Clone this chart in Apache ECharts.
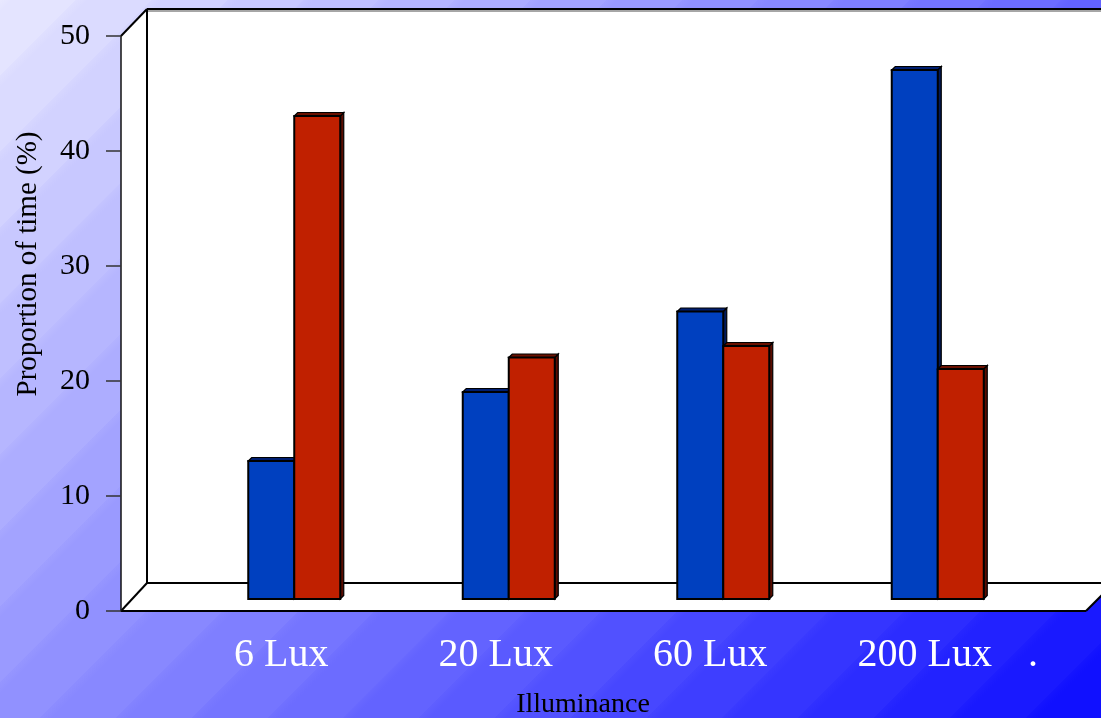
<!DOCTYPE html>
<html>
<head>
<meta charset="utf-8">
<script src="https://cdn.jsdelivr.net/npm/echarts@6/dist/echarts.min.js"></script>
<style>
  html, body { margin: 0; padding: 0; }
  #chart { width: 1101px; height: 718px; }
</style>
</head>
<body>
<div id="chart"></div>
<script>
// Share of time spent under each illuminance level
const categories = ['6 Lux', '20 Lux', '60 Lux', '200 Lux'];
const blueValues = [12, 18, 25, 46];
const redValues = [42, 21, 22, 20];
const yMin = 0;
const yMax = 50;
const yStep = 10;
const yAxisTitle = 'Proportion of time (%)';
const xAxisTitle = 'Illuminance';

// ---- layout (pixels) ----
const W = 1101, H = 718;
const FRONT = { left: 121, top: 36, bottom: 611 };   // front edge of the box (value axis)
const BACK = { dx: 26, dy: 27 };                     // back wall offset
const MID = { dx: 13, dy: 12 };                      // bars stand half way into the box
const CAT = { left: 174, right: 1032 };              // category band, front projection
const FLOOR_RIGHT = 1086;
const BAR_W = 46;
const BAR_DEPTH = 3.5;
const SERIF = '"Liberation Serif", "Times New Roman", serif';

// stepped diagonal background
function bandedBackground() {
  const bands = 24;
  const c0 = 228, c1 = 16;
  const stops = [];
  for (let i = 0; i < bands; i++) {
    const c = Math.round(c0 + (c1 - c0) * (i / (bands - 1)));
    const col = 'rgb(' + c + ',' + c + ',255)';
    const hi = 'rgb(' + Math.min(255, c + 5) + ',' + Math.min(255, c + 5) + ',255)';
    stops.push({ offset: i / bands, color: hi });
    stops.push({ offset: i / bands + 0.15 / bands, color: col });
    stops.push({ offset: (i + 1) / bands - 0.0001, color: col });
  }
  const L = (W + H) / 2;
  return { type: 'linear', x: 0, y: 0, x2: L, y2: L, global: true, colorStops: stops };
}

function barRenderer(side, face, topFill, sideFill) {
  return function (params, api) {
    const idx = api.value(0);
    const val = api.value(1);
    const base = api.coord([idx, 0]);
    const head = api.coord([idx, val]);
    const x0 = side < 0 ? base[0] - BAR_W : base[0];
    const x1 = x0 + BAR_W;
    const yb = base[1], yt = head[1];
    const d = BAR_DEPTH;
    return {
      type: 'group',
      children: [
        { type: 'polygon', shape: { points: [[x1, yt], [x1 + d, yt - d], [x1 + d, yb - d], [x1, yb]] },
          style: { fill: sideFill, stroke: '#000', lineWidth: 1.2 } },
        { type: 'polygon', shape: { points: [[x0, yt], [x0 + d, yt - d], [x1 + d, yt - d], [x1, yt]] },
          style: { fill: topFill, stroke: '#000', lineWidth: 1.2 } },
        { type: 'rect', shape: { x: x0, y: yt, width: BAR_W, height: yb - yt },
          style: { fill: face, stroke: '#000', lineWidth: 2 } }
      ]
    };
  };
}

const backTop = FRONT.top - BACK.dy;
const backLeft = FRONT.left + BACK.dx;
const backBottom = FRONT.bottom - BACK.dy - 1;
const farRight = FLOOR_RIGHT + BACK.dx + 2;
const edge = { stroke: '#000', lineWidth: 2 };

const chart = echarts.init(document.getElementById('chart'), null, { renderer: 'canvas' });

chart.setOption({
  animation: false,
  backgroundColor: 'transparent',
  grid: [
    // value axis on the front edge
    { left: FRONT.left, top: FRONT.top, width: FLOOR_RIGHT - FRONT.left, height: FRONT.bottom - FRONT.top },
    // category labels along the front edge
    { left: CAT.left, top: FRONT.top, width: CAT.right - CAT.left, height: FRONT.bottom - FRONT.top },
    // columns, half way into the box
    { left: CAT.left + MID.dx, top: FRONT.top - MID.dy, width: CAT.right - CAT.left, height: FRONT.bottom - FRONT.top }
  ],
  xAxis: [
    { gridIndex: 0, type: 'value', show: false },
    { gridIndex: 1, type: 'category', data: categories,
      axisLine: { show: false }, axisTick: { show: false },
      axisLabel: { color: '#fff', fontSize: 40, fontFamily: SERIF, margin: 24 } },
    { gridIndex: 2, type: 'category', data: categories, show: false }
  ],
  yAxis: [
    { gridIndex: 0, type: 'value', min: yMin, max: yMax, interval: yStep, z: 5,
      axisLine: { show: true, lineStyle: { color: '#111', width: 1.5 } },
      axisTick: { show: true, length: 15, lineStyle: { color: '#333', width: 1.5 } },
      axisLabel: { color: '#000', fontSize: 30, fontFamily: SERIF, margin: 31, padding: [6, 0, 0, 0] },
      splitLine: { show: false } },
    { gridIndex: 1, type: 'value', min: yMin, max: yMax, show: false },
    { gridIndex: 2, type: 'value', min: yMin, max: yMax, show: false }
  ],
  series: [
    { type: 'custom', name: 'blue', xAxisIndex: 2, yAxisIndex: 2, z: 3,
      data: categories.map((c, i) => [i, blueValues[i]]),
      renderItem: barRenderer(-1, '#0040BF', '#001E70', '#001A5C') },
    { type: 'custom', name: 'red', xAxisIndex: 2, yAxisIndex: 2, z: 4,
      data: categories.map((c, i) => [i, redValues[i]]),
      renderItem: barRenderer(1, '#C02000', '#6A1000', '#5A0C00') }
  ],
  graphic: [
    { type: 'rect', z: -20, silent: true, shape: { x: 0, y: 0, width: W, height: H },
      style: { fill: bandedBackground() } },
    // back wall, side wall and floor
    { type: 'rect', z: -10, silent: true,
      shape: { x: backLeft, y: backTop, width: W - backLeft + 20, height: backBottom - backTop },
      style: { fill: '#fff' } },
    { type: 'polygon', z: -10, silent: true,
      shape: { points: [[FRONT.left, FRONT.top], [backLeft, backTop], [backLeft, backBottom], [FRONT.left, FRONT.bottom]] },
      style: { fill: '#fff' } },
    { type: 'polygon', z: -10, silent: true,
      shape: { points: [[FRONT.left, FRONT.bottom], [backLeft, backBottom], [farRight, backBottom], [FLOOR_RIGHT, FRONT.bottom]] },
      style: { fill: '#fff' } },
    { type: 'line', z: -9, silent: true, shape: { x1: backLeft, y1: backTop + 2, x2: W, y2: backTop + 2 },
      style: { stroke: '#888', lineWidth: 1.5 } },
    { type: 'line', z: -8, silent: true, shape: { x1: backLeft, y1: backTop, x2: W, y2: backTop }, style: edge },
    { type: 'line', z: -8, silent: true, shape: { x1: FRONT.left, y1: FRONT.top, x2: backLeft, y2: backTop }, style: edge },
    { type: 'line', z: -8, silent: true, shape: { x1: backLeft, y1: backTop, x2: backLeft, y2: backBottom }, style: edge },
    { type: 'line', z: -8, silent: true, shape: { x1: backLeft, y1: backBottom, x2: farRight, y2: backBottom }, style: edge },
    { type: 'line', z: -8, silent: true, shape: { x1: FRONT.left, y1: FRONT.bottom, x2: backLeft, y2: backBottom }, style: edge },
    { type: 'line', z: -8, silent: true, shape: { x1: FRONT.left, y1: FRONT.bottom, x2: FLOOR_RIGHT, y2: FRONT.bottom }, style: edge },
    { type: 'line', z: -8, silent: true, shape: { x1: FLOOR_RIGHT, y1: FRONT.bottom, x2: farRight, y2: backBottom }, style: edge },
    // axis titles
    { type: 'text', z: 10, silent: true, x: 28, y: 264, rotation: Math.PI / 2,
      style: { text: yAxisTitle, font: '29px ' + SERIF, fill: '#000', align: 'center', verticalAlign: 'middle' } },
    { type: 'text', z: 10, silent: true, x: 583, y: 705,
      style: { text: xAxisTitle, font: '28px ' + SERIF, fill: '#000', align: 'center', verticalAlign: 'middle' } },
    { type: 'text', z: 10, silent: true, x: 1033, y: 655,
      style: { text: '.', font: '40px ' + SERIF, fill: '#fff', align: 'center', verticalAlign: 'middle' } }
  ]
});
</script>
</body>
</html>
